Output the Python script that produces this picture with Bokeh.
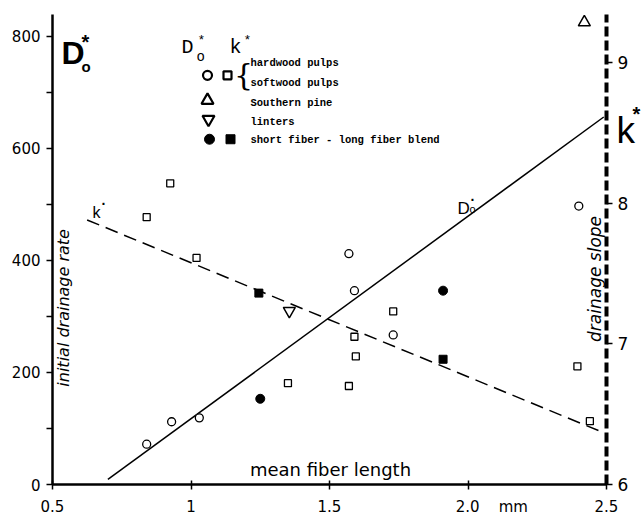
import math
from bokeh.plotting import figure
from bokeh.models import Range1d, LinearAxis, FixedTicker, Label, BasicTickFormatter
from bokeh.core.properties import value
from bokeh.embed import file_html
from bokeh.resources import INLINE

# ---------------- data ----------------
# D*o (initial drainage rate, left axis) for hardwood / softwood pulps (open circles)
pulp_len_D = [0.84, 0.93, 1.03, 1.57, 1.59, 1.73, 2.40]
pulp_D = [72, 112, 119, 412, 346, 267, 497]
# k* (drainage slope, right axis) for hardwood / softwood pulps (open squares)
pulp_len_k = [0.84, 0.925, 1.02, 1.35, 1.57, 1.59, 1.595, 1.73, 2.395, 2.44]
pulp_k = [7.90, 8.14, 7.61, 6.72, 6.70, 7.05, 6.91, 7.23, 6.84, 6.45]
# short fiber - long fiber blend
blend_len_D = [1.25, 1.91]
blend_D = [153, 346]
blend_len_k = [1.245, 1.91]
blend_k = [7.36, 6.89]
# Southern pine (triangle up) and linters (triangle down)
pine_len = [2.42]
pine_D = [825]
linters_len = [1.355]
linters_D = [310]
# fitted lines
fitD_len = [0.70, 2.49]
fitD = [9, 656]
fitk_len = [0.625, 2.475]
fitk = [7.88, 6.38]
# axes
x_ticks = [0.5, 1.0, 1.5, 2.0, 2.5]
D_ticks = [0, 200, 400, 600, 800]
D_minor = [100, 300, 500, 700]
k_ticks = [6, 7, 8, 9]
legend_labels = ["hardwood pulps", "softwood pulps", "Southern pine", "linters",
                 "short fiber - long fiber blend"]

# ---------------- layout ----------------
W, H = 642, 518
FL, FR, FT, FB = 52, 606, 14, 485          # frame edges in canvas pixels
X0, X1 = 0.5, 2.5
D_TOP = 839.0
K_BOT, K_TOP = 6.0, 9.34


def px(xp):
    return X0 + (xp - FL) * (X1 - X0) / (FR - FL)


def py(yp):
    return (FB - yp) * D_TOP / (FB - FT)


p = figure(width=W, height=H, output_backend="svg", toolbar_location=None,
           x_range=Range1d(X0, X1), y_range=Range1d(0, D_TOP),
           min_border_left=FL, min_border_right=W - FR,
           min_border_top=FT, min_border_bottom=H - FB,
           x_axis_location="below", y_axis_location="left")
p.extra_y_ranges = {"k": Range1d(K_BOT, K_TOP)}
p.outline_line_color = None
p.xgrid.visible = False
p.ygrid.visible = False
p.background_fill_color = "white"

TICK_FONT = "DejaVu Sans"

xa = p.xaxis[0]
xa.ticker = FixedTicker(ticks=x_ticks)
xa.formatter = BasicTickFormatter(precision=1)
xa.major_label_overrides = {2: "\u00a0" * 10 + "2.0" + "\u00a0" * 4 + "mm"}
xa.axis_line_width = 2.5
xa.major_tick_in = 4
xa.major_tick_out = 5
xa.major_tick_line_width = 1.5
xa.minor_tick_line_color = None
xa.major_label_standoff = 8
xa.major_label_text_font = TICK_FONT
xa.major_label_text_font_size = "15px"
xa.major_label_text_color = "black"

ya = p.yaxis[0]
ya.ticker = FixedTicker(ticks=D_ticks, minor_ticks=D_minor)
ya.axis_line_width = 2.5
ya.major_tick_in = 0
ya.major_tick_out = 6
ya.minor_tick_in = 0
ya.minor_tick_out = 6
ya.major_tick_line_width = 1.5
ya.minor_tick_line_width = 1.5
ya.major_label_standoff = 6
ya.major_label_text_font = TICK_FONT
ya.major_label_text_font_size = "15px"
ya.major_label_text_color = "black"

ka = LinearAxis(y_range_name="k", ticker=FixedTicker(ticks=k_ticks))
ka.axis_line_width = 4
ka.axis_line_dash = "10 4"
ka.major_tick_in = 0
ka.major_tick_out = 6
ka.major_tick_line_width = 1.5
ka.minor_tick_line_color = None
ka.major_label_standoff = 5
ka.major_label_text_font = TICK_FONT
ka.major_label_text_font_size = "17px"
ka.major_label_text_color = "black"
p.add_layout(ka, "right")

# ---------------- fitted lines ----------------
p.line(fitD_len, fitD, line_color="black", line_width=1.5)
p.line(fitk_len, fitk, y_range_name="k", line_color="black", line_width=1.5,
       line_dash="13 7")

# ---------------- points ----------------
p.scatter(pulp_len_D, pulp_D, marker="circle", size=8, fill_color="white",
          line_color="black", line_width=1.3)
p.scatter(pulp_len_k, pulp_k, y_range_name="k", marker="square", size=7,
          fill_color="white", line_color="black", line_width=1.3)
p.scatter(blend_len_D, blend_D, marker="circle", size=9, fill_color="black",
          line_color="black")
p.scatter(blend_len_k, blend_k, y_range_name="k", marker="square", size=8,
          fill_color="black", line_color="black")
p.scatter(pine_len, pine_D, marker="triangle", size=12, fill_color="white",
          line_color="black", line_width=1.5)
p.scatter(linters_len, linters_D, marker="inverted_triangle", size=12,
          fill_color="white", line_color="black", line_width=1.5)

# ---------------- custom legend ----------------
p.scatter([px(207)], [py(75)], marker="circle", size=9, fill_color="white",
          line_color="black", line_width=2.2)
p.scatter([px(227)], [py(75)], marker="square", size=8, fill_color="white",
          line_color="black", line_width=2.2)
p.scatter([px(207)], [py(100)], marker="triangle", size=12, fill_color="white",
          line_color="black", line_width=2.2)
p.scatter([px(208)], [py(119)], marker="inverted_triangle", size=12,
          fill_color="white", line_color="black", line_width=2.2)
p.scatter([px(209)], [py(139)], marker="circle", size=10, fill_color="black",
          line_color="black")
p.scatter([px(230)], [py(139)], marker="square", size=9, fill_color="black",
          line_color="black")


def label(xp, yp, text, size, font="DejaVu Sans", style="normal", align="left",
          baseline="alphabetic", angle=0.0):
    p.add_layout(Label(x=px(xp), y=py(yp), text=text, text_font=font,
                       text_font_size=f"{size}px", text_font_style=style,
                       text_align=align, text_baseline=baseline, angle=angle,
                       text_color="black"))


MONO = "Liberation Mono"
for yy, t in zip([63, 83, 103, 122, 140], legend_labels):
    label(250, yy, t, 10.5, font=MONO, style="bold", baseline="middle")
label(243, 74, "{", 30, font="DejaVu Serif", align="center", baseline="middle")
# legend header
label(181, 47, "D", 20, font=MONO)
label(197, 40, "*", 13, font=MONO)
label(196, 57, "o", 14, font=MONO)
label(229, 47, "k", 20, font=MONO)
label(243, 40, "*", 13, font=MONO)

# big axis symbol for the left axis
label(61, 53, "D", 32, font="Liberation Sans", style="bold")
label(81, 42, "*", 20, font="Liberation Sans", style="bold")
label(81, 66, "o", 15, font="Liberation Sans", style="bold")

# big axis symbol for the right axis: drawn outside the frame (overlay level)
p.text(x=[px(616)], y=[py(130)], text=["k"], text_font=value("Liberation Sans"),
       text_font_size=value("37px"), text_baseline="alphabetic", text_align="left",
       text_color="black", level="overlay")
p.text(x=[px(632)], y=[py(114)], text=["*"], text_font=value("Liberation Sans"),
       text_font_size=value("20px"), text_font_style="bold",
       text_baseline="alphabetic", text_align="left", text_color="black",
       level="overlay")

# line labels
label(457, 208, "D", 17, font="Liberation Sans")
label(469, 209, "o", 11, font="Liberation Sans")
label(470, 200, "·", 14, font="Liberation Sans", style="bold")
label(92, 212, "k", 16, font="Liberation Sans")
label(101, 204, "·", 14, font="Liberation Sans", style="bold")

# axis titles drawn inside the frame
label(330, 470, "mean fiber length", 18, baseline="middle", align="center")
label(63, 308, "initial drainage rate", 16, style="italic", baseline="middle",
      align="center", angle=math.pi / 2)
label(594, 279, "drainage slope", 17, style="italic", baseline="middle",
      align="center", angle=math.pi / 2)

open("out.html", "w").write(file_html(p, INLINE))
